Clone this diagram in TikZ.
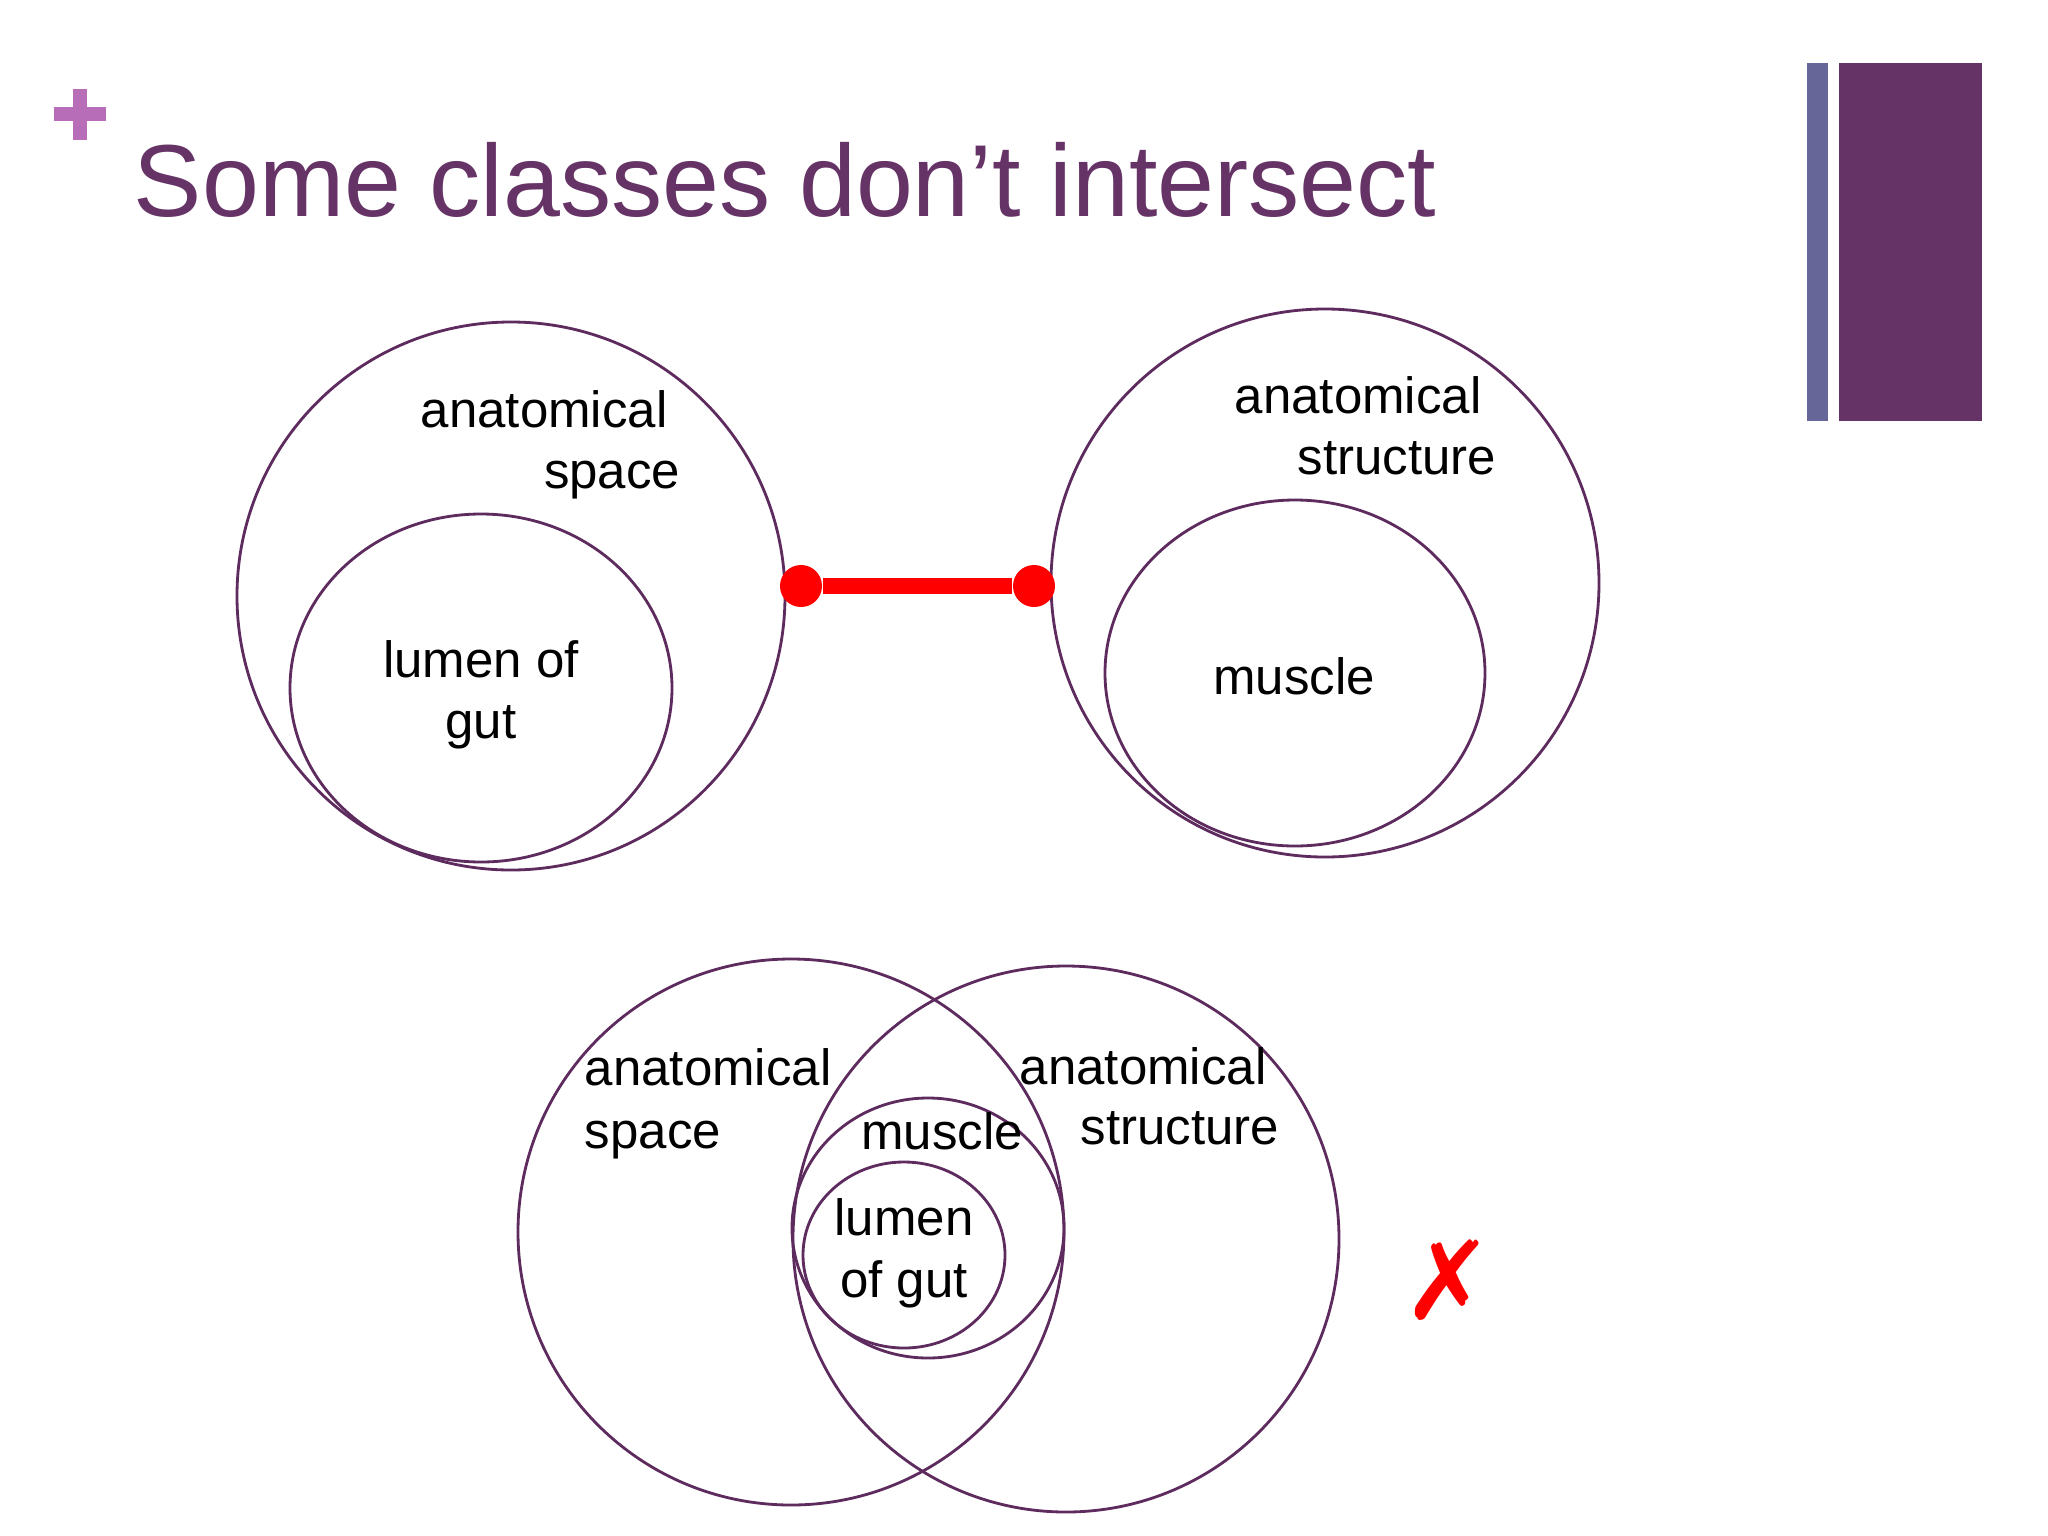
\documentclass[tikz,border=0pt]{standalone}
\usepackage{fontspec}
\setmainfont{Liberation Sans}
\newfontfamily\symfont{DejaVu Sans}
\usetikzlibrary{positioning}
\definecolor{plum}{HTML}{663366}
\definecolor{slate}{HTML}{666699}
\definecolor{orchid}{HTML}{B86DB8}
\definecolor{ring}{HTML}{5E2B5E}
\tikzset{every picture/.style={line width=0.5pt}}
\tikzset{font=\fontsize{14.5}{17.4}\selectfont}
\tikzstyle{dot}=[circle,fill=red,inner sep=0pt,minimum size=0.42cm]
\tikzstyle{lbl}=[inner sep=0pt,text height=0.75em,text depth=0.22em]
\tikzstyle{set}=[draw=ring,line width=0.8pt]

\begin{document}
\begin{tikzpicture}[x=0.01cm,y=-0.01cm]
\useasboundingbox[fill=white] (0,0) rectangle (2048,1536);
% header
\fill[orchid] (54,107) rectangle (106,121);
\fill[orchid] (73,89) rectangle (87,140);
\node[anchor=base west,inner sep=0pt,text=plum,font=\fontsize{29.1}{35}\selectfont] (title) at (133,216) {Some classes don’t intersect};
\fill[slate] (1807,63) rectangle (1828,421);
\fill[plum] (1839,63) rectangle (1982,421);
% disjoint classes
\draw[set] (511,596) circle (274);
\draw[set] (481,688) ellipse (191 and 174);
\draw[set] (1325,583) circle (274);
\draw[set] (1295,673) ellipse (190 and 173);
\node[lbl,anchor=west] (A1) at (420,418) {anatomical};
\node[lbl,anchor=east] (A2) at (681,479) {space};
\node[lbl] (L1) at (481,668) {lumen of};
\node[lbl] (L2) at (481,729) {gut};
\node[lbl,anchor=west] (S1) at (1234,404) {anatomical};
\node[lbl,anchor=west] (S2) at (1297,465) {structure};
\node[lbl] (M) at (1294,685) {muscle};
\node[dot] (P) at (801,586) {};
\node[dot] (Q) at (1034,586) {};
\path[red,line width=4.3pt]
(P) edge (Q);
% the wrong picture
\draw[set] (791,1232) circle (273);
\draw[set] (1066,1239) circle (273);
\draw[set] (928,1228) ellipse (136 and 130);
\draw[set] (904,1255) ellipse (101 and 93);
\node[lbl,anchor=west] (B1) at (584,1076) {anatomical};
\node[lbl,anchor=west] (B2) at (584,1139) {space};
\node[lbl,anchor=west] (C1) at (1019,1075) {anatomical};
\node[lbl,anchor=west] (C2) at (1080,1135) {structure};
\node[lbl] (M2) at (942,1140) {muscle};
\node[lbl] (G1) at (904,1226) {lumen};
\node[lbl] (G2) at (904,1288) {of gut};
\node[text=red,font=\symfont\bfseries\fontsize{31}{36}\selectfont] (X) at (1448,1280) {✗};
\end{tikzpicture}
\end{document}
